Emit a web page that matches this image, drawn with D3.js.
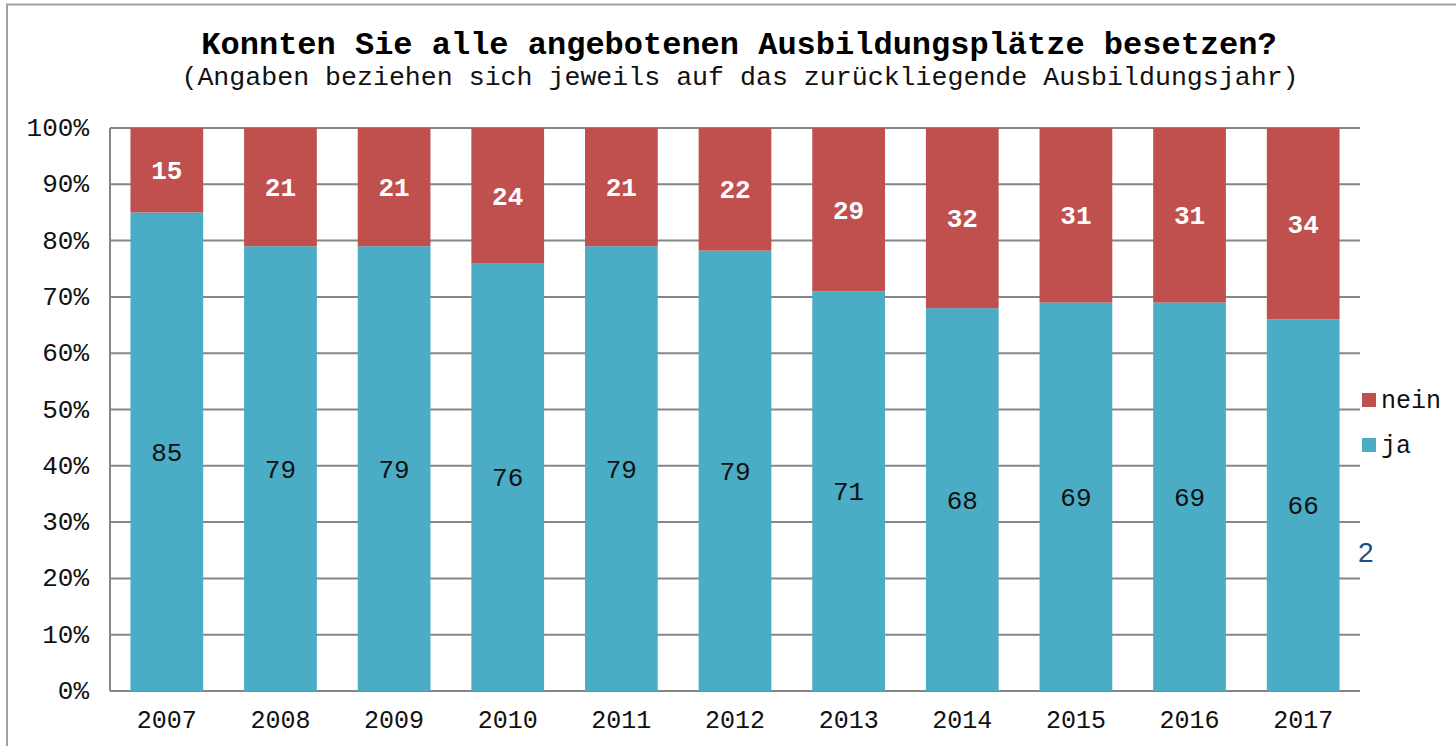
<!DOCTYPE html>
<html>
<head>
<meta charset="utf-8">
<script src="https://cdn.jsdelivr.net/npm/d3@7"></script>
<style>
  body { margin: 0; background: #fff; }
  text { font-family: "Liberation Mono", "Courier New", monospace; }
</style>
</head>
<body>
<svg width="1456" height="746"></svg>
<script>
var years = ["2007","2008","2009","2010","2011","2012","2013","2014","2015","2016","2017"];
var ja   = [85, 79, 79, 76, 79, 79, 71, 68, 69, 69, 66];
var nein = [15, 21, 21, 24, 21, 22, 29, 32, 31, 31, 34];
var ticks = [0, 10, 20, 30, 40, 50, 60, 70, 80, 90, 100];

var svg = d3.select("svg");
var m = {left: 110, right: 1360, top: 128, bottom: 691};

// frame
svg.append("rect")
  .attr("x", 7).attr("y", 4.5).attr("width", 1460).attr("height", 760)
  .attr("fill", "none").attr("stroke", "#a0a0a0").attr("stroke-width", 2);

var x = d3.scaleBand().domain(years).range([m.left, m.right]).paddingInner(0.36).paddingOuter(0.18);
var y = d3.scaleLinear().domain([0, 100]).range([m.bottom, m.top]);

// grid lines
svg.append("g").selectAll("line")
  .data(ticks)
  .enter().append("line")
  .attr("x1", m.left).attr("x2", m.right)
  .attr("y1", function(d) { return y(d); })
  .attr("y2", function(d) { return y(d); })
  .attr("stroke", "#868686").attr("stroke-width", 2);

svg.append("line")
  .attr("x1", m.left).attr("x2", m.left)
  .attr("y1", m.top).attr("y2", m.bottom)
  .attr("stroke", "#868686").attr("stroke-width", 2);

// y tick labels
svg.append("g").selectAll("text")
  .data(ticks)
  .enter().append("text")
  .attr("x", 89)
  .attr("y", function(d) { return y(d) + 8; })
  .attr("text-anchor", "end")
  .attr("font-size", 26)
  .attr("fill", "#111")
  .text(function(d) { return d + "%"; });

var rows = years.map(function(yr, i) {
  var t = ja[i] + nein[i];
  return {year: yr, ja: ja[i], nein: nein[i], pj: ja[i] / t * 100};
});

var bars = svg.append("g").selectAll("g")
  .data(rows)
  .enter().append("g");

bars.append("rect")
  .attr("x", function(d) { return x(d.year); })
  .attr("width", x.bandwidth())
  .attr("y", function(d) { return y(d.pj); })
  .attr("height", function(d) { return y(0) - y(d.pj); })
  .attr("fill", "#4BACC6");

bars.append("rect")
  .attr("x", function(d) { return x(d.year); })
  .attr("width", x.bandwidth())
  .attr("y", y(100))
  .attr("height", function(d) { return y(d.pj) - y(100); })
  .attr("fill", "#C0504D");

bars.append("text")
  .attr("x", function(d) { return x(d.year) + x.bandwidth() / 2; })
  .attr("y", function(d) { return (y(d.pj) + y(0)) / 2 + 9; })
  .attr("text-anchor", "middle")
  .attr("font-size", 26)
  .attr("fill", "#111")
  .text(function(d) { return d.ja; });

bars.append("text")
  .attr("x", function(d) { return x(d.year) + x.bandwidth() / 2; })
  .attr("y", function(d) { return (y(d.pj) + y(100)) / 2 + 9; })
  .attr("text-anchor", "middle")
  .attr("font-size", 26)
  .attr("font-weight", "bold")
  .attr("fill", "#fff")
  .text(function(d) { return d.nein; });

// year labels
svg.append("g").selectAll("text")
  .data(years)
  .enter().append("text")
  .attr("x", function(d) { return x(d) + x.bandwidth() / 2; })
  .attr("y", 728)
  .attr("text-anchor", "middle")
  .attr("font-size", 25)
  .attr("fill", "#111")
  .text(function(d) { return d; });

// titles
svg.append("text")
  .attr("x", 739).attr("y", 54)
  .attr("text-anchor", "middle")
  .attr("font-size", 32)
  .attr("font-weight", "bold")
  .attr("fill", "#000")
  .text("Konnten Sie alle angebotenen Ausbildungsplätze besetzen?");
svg.append("text")
  .attr("x", 740).attr("y", 85)
  .attr("text-anchor", "middle")
  .attr("font-size", 26.6)
  .attr("fill", "#111")
  .text("(Angaben beziehen sich jeweils auf das zurückliegende Ausbildungsjahr)");

// legend
var legend = [{name: "nein", color: "#C0504D", y: 400}, {name: "ja", color: "#4BACC6", y: 445}];
var lg = svg.append("g").selectAll("g").data(legend).enter().append("g");
lg.append("rect")
  .attr("x", 1362).attr("y", function(d) { return d.y - 7; })
  .attr("width", 14).attr("height", 14)
  .attr("fill", function(d) { return d.color; });
lg.append("text")
  .attr("x", 1381).attr("y", function(d) { return d.y + 8; })
  .attr("font-size", 25)
  .attr("fill", "#111")
  .text(function(d) { return d.name; });

svg.append("text")
  .attr("x", 1358).attr("y", 562)
  .style("font-family", "'Liberation Sans', Arial, sans-serif")
  .attr("font-size", 28)
  .attr("fill", "#1F4E8C")
  .text("2");
</script>
</body>
</html>
